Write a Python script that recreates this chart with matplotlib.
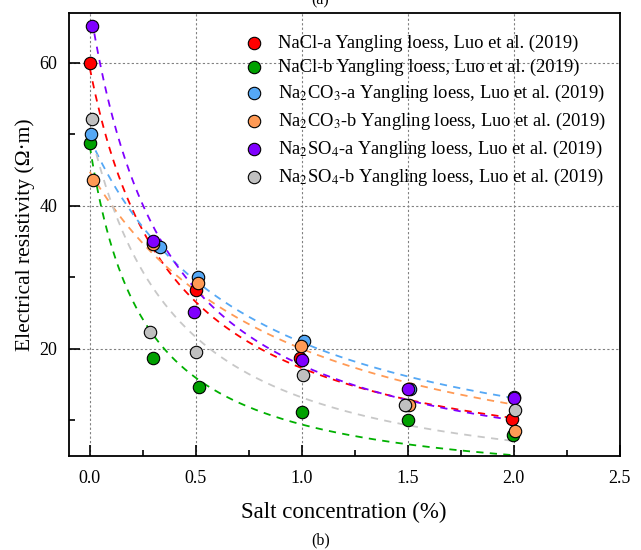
import matplotlib
matplotlib.use("Agg")
import matplotlib.pyplot as plt
import numpy as np

plt.rcParams['font.family'] = ['Liberation Serif', 'DejaVu Serif']
plt.rcParams['mathtext.fontset'] = 'stix'

# measured points: salt concentration (%) vs electrical resistivity (ohm m)
labels = [
    "NaCl-a Yangling loess, Luo et al. (2019)",
    "NaCl-b Yangling loess, Luo et al. (2019)",
    "Na$_2$CO$_3$-a Yangling loess, Luo et al. (2019)",
    "Na$_2$CO$_3$-b Yangling loess, Luo et al. (2019)",
    "Na$_2$SO$_4$-a Yangling loess, Luo et al. (2019)",
    "Na$_2$SO$_4$-b Yangling loess, Luo et al. (2019)",
]
nacl_a_x = [0.0, 0.30, 0.50, 0.99, 1.49, 1.99]
nacl_a_y = [59.9, 34.8, 28.2, 18.7, 12.1, 10.1]
nacl_b_x = [0.0, 0.30, 0.515, 1.0, 1.50, 1.995]
nacl_b_y = [48.8, 18.65, 14.6, 11.1, 10.05, 8.0]
na2co3_a_x = [0.008, 0.33, 0.51, 1.008, 1.51, 2.003]
na2co3_a_y = [50.0, 34.2, 30.0, 21.1, 14.3, 13.2]
na2co3_b_x = [0.016, 0.30, 0.51, 0.995, 1.505, 2.007]
na2co3_b_y = [43.6, 34.6, 29.25, 20.4, 12.1, 8.55]
na2so4_a_x = [0.01, 0.297, 0.49, 1.0, 1.50, 2.0]
na2so4_a_y = [65.1, 35.0, 25.2, 18.4, 14.3, 13.05]
na2so4_b_x = [0.012, 0.283, 0.50, 1.005, 1.485, 2.007]
na2so4_b_y = [52.1, 22.4, 19.5, 16.3, 12.1, 11.4]

# fitted curves rho = a * (c + x0) ** (-m)
fit_a = [23.4, 12.04, 38.4, 54.5, 24.9, 21.1]
fit_x0 = [0.376, 0.266, 0.786, 1.164, 0.385, 0.48]
fit_m = [0.95, 1.05, 1.05, 1.3, 1.05, 1.2]

xs = [nacl_a_x, nacl_b_x, na2co3_a_x, na2co3_b_x, na2so4_a_x, na2so4_b_x]
ys = [nacl_a_y, nacl_b_y, na2co3_a_y, na2co3_b_y, na2so4_a_y, na2so4_b_y]

face_colors = ['#ff0000', '#00a000', '#55a8f5', '#ff9a55', '#8000ff', '#c0c0c0']
line_colors = ['#ff0000', '#00b000', '#55a8f5', '#ff9a55', '#8000ff', '#c8c8c8']

fig = plt.figure(figsize=(6.41, 5.5), dpi=100)
ax = fig.add_axes([0.107, 0.171, 0.860, 0.806])

c = np.linspace(0.0, 2.0, 300)
for i in range(6):
    rho = fit_a[i] * (c + fit_x0[i]) ** (-fit_m[i])
    ax.plot(c, rho, color=line_colors[i], lw=1.3, dashes=(4, 3.5), zorder=2)

for i in range(6):
    ax.scatter(xs[i], ys[i], s=80, color=face_colors[i], edgecolors='black',
               linewidths=0.8, zorder=3, label=labels[i])

ax.set_xlim(-0.1, 2.5)
ax.set_ylim(5, 67)
ax.set_xticks([0.0, 0.5, 1.0, 1.5, 2.0, 2.5])
ax.set_xticks([0.25, 0.75, 1.25, 1.75, 2.25], minor=True)
ax.set_yticks([20, 40, 60])
ax.set_yticks([10, 30, 50], minor=True)
ax.xaxis.set_major_formatter(matplotlib.ticker.FormatStrFormatter('%.1f'))
ax.tick_params(which='major', direction='in', length=8, width=1.2,
               labelsize=13, pad=8)
ax.tick_params(axis='x', which='major', pad=10)
ax.tick_params(which='minor', direction='in', length=4, width=1.2)
ax.grid(True, which='major', color='#808080', lw=0.8, dashes=(2, 2))
ax.set_axisbelow(True)
for sp in ax.spines.values():
    sp.set_linewidth(1.3)

ax.set_xlabel("Salt concentration (%)", fontsize=16.5, labelpad=11)
ax.set_ylabel("Electrical resistivity (Ω·m)", fontsize=15.5, labelpad=3)

ax.legend(loc='upper left', bbox_to_anchor=(0.307, 0.968), frameon=False,
          fontsize=13.3, handlelength=1.0, handletextpad=0.8,
          labelspacing=0.37, scatterpoints=1, borderaxespad=0.0)

fig.text(0.5, 0.999, "(a)", ha='center', va='center', fontsize=11.5)
fig.text(0.5, 0.018, "(b)", ha='center', va='center', fontsize=11.5)

fig.savefig("out.png", dpi=100)
